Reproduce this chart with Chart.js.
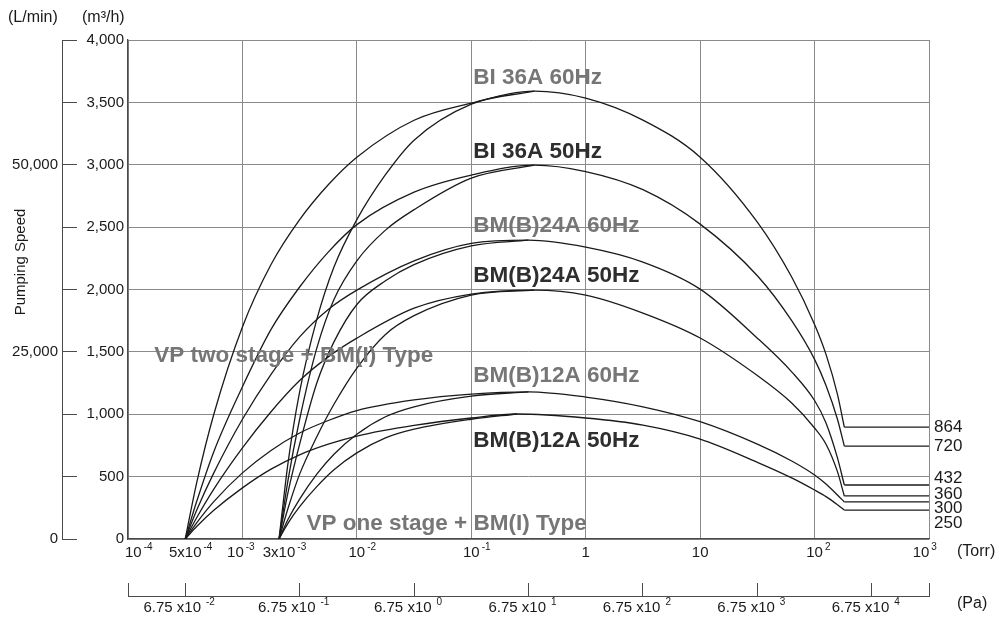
<!DOCTYPE html>
<html>
<head>
<meta charset="utf-8">
<script src="https://cdn.jsdelivr.net/npm/chart.js@4/dist/chart.umd.min.js"></script>
<style>
  html, body { margin: 0; background: #fff; }
  .pump-chart { width: 1004px; height: 626px; position: relative; }
</style>
</head>
<body>
<div class="pump-chart"><canvas></canvas></div>
<script>
// x values are positions on the pressure axis in decades (log10 Torr), as drawn
const torrTicks = [-4, -3.5, -3, -2.68, -2, -1, 0, 1, 2, 3]
const torrLabels = [['10', '-4'], ['5x10', '-4'], ['10', '-3'], ['3x10', '-3'], ['10', '-2'], ['10', '-1'], ['1', ''], ['10', ''], ['10', '2'], ['10', '3']]
const paTicks = [-4, -3.5, -2.5, -1.5, -0.5, 0.5, 1.5, 2.5, 3]
const paLabels = [['', ''], ['6.75 x10', '-2'], ['6.75 x10', '-1'], ['6.75 x10', '0'], ['6.75 x10', '1'], ['6.75 x10', '2'], ['6.75 x10', '3'], ['6.75 x10', '4'], ['', '']]

const models = ['BI 36A 60Hz', 'BI 36A 50Hz', 'BM(B)24A 60Hz', 'BM(B)24A 50Hz', 'BM(B)12A 60Hz', 'BM(B)12A 50Hz']
const peakX = [-0.45, -0.45, -0.5, -0.45, -0.5, -0.6]
const peakSpeed = [3590, 2997, 2396, 1995, 1180, 1002]

// VP two stage + BM(I): rising branch
const twoStageX = [-3.5, -3.4, -3.25, -3, -2.75, -2.5, -2.25, -2, -1.5, -1]
const twoStage36A60 = [0, 450, 1000, 1700, 2200, 2560, 2840, 3061, 3357, 3494]
const twoStage36A50 = [0, 300, 700, 1220, 1680, 2020, 2300, 2520, 2780, 2917]
const twoStage24A60 = [0, 230, 530, 960, 1320, 1620, 1840, 1995, 2230, 2370]
const twoStage24A50 = [0, 170, 400, 730, 1020, 1270, 1460, 1610, 1850, 1963]
const twoStage12A60 = [0, 130, 300, 530, 710, 850, 950, 1030, 1115, 1162]
const twoStage12A50 = [0, 100, 230, 410, 560, 675, 760, 825, 910, 970]

// VP one stage + BM(I): rising branch
const oneStageX = [-2.68, -2.6, -2.5, -2.35, -2.2, -2, -1.75, -1.5, -1]
const oneStage36A60 = [0, 620, 1180, 1760, 2180, 2560, 2920, 3197, 3486]
const oneStage36A50 = [0, 480, 960, 1530, 1920, 2230, 2476, 2640, 2893]
const oneStage24A60 = [0, 380, 760, 1250, 1580, 1880, 2070, 2200, 2350]
const oneStage24A50 = [0, 250, 520, 820, 1080, 1370, 1640, 1790, 1955]
const oneStage12A60 = [0, 160, 320, 520, 680, 840, 980, 1060, 1145]
const oneStage12A50 = [0, 130, 260, 420, 555, 690, 810, 880, 960]

// common falling branch towards atmosphere
const fallX = [0, 0.5, 1, 1.5, 1.8, 2, 2.1, 2.2, 2.26]
const fall36A60 = [3534, 3358, 3061, 2540, 2100, 1720, 1480, 1160, 897]
const fall36A50 = [2945, 2800, 2524, 2110, 1750, 1440, 1230, 960, 745]
const fall24A60 = [2340, 2220, 2003, 1610, 1340, 1110, 930, 650, 433]
const fall24A50 = [1955, 1811, 1611, 1310, 1090, 890, 760, 540, 345]
const fall12A60 = [1138, 1060, 940, 760, 625, 513, 440, 352, 297]
const fall12A50 = [970, 913, 801, 615, 490, 393, 340, 275, 232]

const flatX = [2.26, 3]
const endSpeed = [897, 745, 433, 345, 297, 232]
const endLabels = ['864', '720', '432', '360', '300', '250']

const twoStage = [twoStage36A60, twoStage36A50, twoStage24A60, twoStage24A50, twoStage12A60, twoStage12A50]
const oneStage = [oneStage36A60, oneStage36A50, oneStage24A60, oneStage24A50, oneStage12A60, oneStage12A50]
const fall = [fall36A60, fall36A50, fall24A60, fall24A50, fall12A60, fall12A50]

const FONT = '"Liberation Sans", Arial, Helvetica, sans-serif'
const GRID = '#8a8a8a'
const AXIS = '#4a4a4a'
const INK = '#1a1a1a'
const GREY_TEXT = '#767676'
const DARK_TEXT = '#2e2e2e'

Chart.defaults.font.family = FONT
Chart.defaults.color = INK

const pts = (xs, ys) => xs.map((x, k) => ({ x, y: ys[k] }))

const datasets = []
models.forEach((name, i) => {
  const line = {
    borderColor: INK,
    borderWidth: 1.3,
    pointRadius: 0,
    fill: false,
    cubicInterpolationMode: 'monotone'
  }
  datasets.push({
    ...line,
    label: name + ' two stage',
    data: [...pts(twoStageX, twoStage[i]), { x: peakX[i], y: peakSpeed[i] }, ...pts(fallX, fall[i])]
  })
  datasets.push({
    ...line,
    label: name + ' one stage',
    data: [...pts(oneStageX, oneStage[i]), { x: peakX[i], y: peakSpeed[i] }]
  })
  datasets.push({
    ...line,
    label: name + ' end',
    cubicInterpolationMode: 'default',
    tension: 0,
    data: pts(flatX, [endSpeed[i], endSpeed[i]])
  })
})

// base text centred on cx, exponent hanging to the right
function drawSup(ctx, base, sup, cx, cy, size, gap, mode) {
  const big = size + 'px ' + FONT
  const small = Math.round(size * 0.66) + 'px ' + FONT
  ctx.font = big
  const bw = ctx.measureText(base).width
  ctx.font = small
  const sw = sup ? ctx.measureText(sup).width + gap : 0
  let left = cx - bw / 2
  if (mode === 'left') left = cx
  if (mode === 'whole') left = cx - (bw + sw) / 2
  ctx.textAlign = 'left'
  ctx.textBaseline = 'middle'
  ctx.font = big
  ctx.fillText(base, left, cy)
  if (sup) {
    ctx.font = small
    ctx.fillText(sup, left + bw + gap, cy - size * 0.4)
  }
}

function text(ctx, str, x, y, size, color, opts = {}) {
  ctx.font = (opts.bold ? 'bold ' : '') + size + 'px ' + FONT
  ctx.fillStyle = color
  ctx.textAlign = opts.align || 'left'
  ctx.textBaseline = 'middle'
  ctx.fillText(str, x, y)
}

const annotationsPlugin = {
  id: 'pumpAnnotations',
  afterDraw(chart) {
    const { ctx, scales: { x, pa, y }, chartArea } = chart
    ctx.save()
    ctx.fillStyle = INK

    // torr axis labels (a few nudged sideways like the original print)
    const nudge = { '-4': 0, '-3': -7, '3': -8 }
    for (const t of x.ticks) {
      const k = torrTicks.indexOf(t.value)
      if (k < 0) continue
      const px = x.getPixelForValue(t.value) + (nudge[t.value] || 0)
      drawSup(ctx, torrLabels[k][0], torrLabels[k][1], k === 0 ? px - 3 : px, 553, 15, 2, k === 0 ? 'left' : 'base')
    }
    // pa axis labels
    for (const t of pa.ticks) {
      const k = paTicks.indexOf(t.value)
      if (k < 0 || !paLabels[k][0]) continue
      drawSup(ctx, paLabels[k][0], paLabels[k][1], pa.getPixelForValue(t.value) - 6, 608, 15, 5, 'whole')
    }

    text(ctx, '(Torr)', 957, 552, 16, INK)
    text(ctx, '(Pa)', 957, 604, 16, INK)
    text(ctx, '(L/min)', 8, 18, 16, INK)
    text(ctx, '(m³/h)', 82, 18, 16, INK)

    ctx.save()
    ctx.translate(21, 262)
    ctx.rotate(-Math.PI / 2)
    text(ctx, 'Pumping Speed', 0, 0, 15, INK, { align: 'center' })
    ctx.restore()

    // end values at the right side
    const endLabelSpeed = [897, 745, 489, 361, 248, 128]
    endLabels.forEach((lbl, i) => {
      text(ctx, lbl, chartArea.right + 5, y.getPixelForValue(endLabelSpeed[i]), 17, INK)
    })

    // model names
    const nameSpeed = [3700, 3105, 2512, 2111, 1310, 790]
    const nameColor = [GREY_TEXT, DARK_TEXT, GREY_TEXT, DARK_TEXT, GREY_TEXT, DARK_TEXT]
    models.forEach((m, i) => {
      text(ctx, m, x.getPixelForValue(-1) + 2, y.getPixelForValue(nameSpeed[i]), 22.5, nameColor[i], { bold: true })
    })
    text(ctx, 'VP two stage + BM(I) Type', x.getPixelForValue(-3.77), y.getPixelForValue(1470), 22.5, GREY_TEXT, { bold: true })
    text(ctx, 'VP one stage + BM(I) Type', x.getPixelForValue(-2.44), y.getPixelForValue(124), 22.5, GREY_TEXT, { bold: true })
    ctx.restore()
  }
}

const canvas = document.querySelector('.pump-chart canvas')
new Chart(canvas, {
  type: 'line',
  data: { datasets },
  options: {
    responsive: true,
    maintainAspectRatio: false,
    animation: false,
    events: [],
    layout: { padding: { top: 40, right: 75, left: 0, bottom: 0 } },
    plugins: { legend: { display: false }, tooltip: { enabled: false } },
    scales: {
      x: {
        type: 'linear',
        position: 'bottom',
        weight: 0,
        min: -4,
        max: 3,
        afterBuildTicks: axis => { axis.ticks = torrTicks.map(v => ({ value: v })) },
        afterFit: axis => { axis.height = 57 },
        ticks: { display: false },
        grid: {
          drawTicks: false,
          lineWidth: 1,
          color: c => (c.tick && Number.isInteger(c.tick.value)) ? GRID : 'rgba(0,0,0,0)'
        },
        border: { color: AXIS, width: 1.3 }
      },
      pa: {
        type: 'linear',
        position: 'bottom',
        weight: 1,
        min: -4,
        max: 3,
        afterBuildTicks: axis => { axis.ticks = paTicks.map(v => ({ value: v })) },
        afterFit: axis => { axis.height = 30 },
        ticks: { display: false },
        grid: { drawOnChartArea: false, drawTicks: true, tickLength: -13, color: AXIS, lineWidth: 1 },
        border: { color: AXIS, width: 1 }
      },
      y: {
        position: 'left',
        weight: 0,
        min: 0,
        max: 4000,
        afterFit: axis => { axis.width = 66 },
        ticks: {
          stepSize: 500,
          padding: 4,
          color: INK,
          font: { size: 15 },
          callback: v => v.toLocaleString('en-US')
        },
        grid: { drawTicks: false, color: GRID, lineWidth: 1 },
        border: { color: AXIS, width: 1.3 }
      },
      yl: {
        position: 'left',
        weight: 1,
        min: 0,
        max: 4000,
        afterFit: axis => { axis.width = 62 },
        ticks: {
          stepSize: 500,
          padding: 19,
          color: INK,
          font: { size: 15 },
          callback: v => v % 1500 === 0 ? (v * 50 / 3).toLocaleString('en-US') : ''
        },
        grid: { drawOnChartArea: false, drawTicks: true, tickLength: -15, color: AXIS, lineWidth: 1 },
        border: { color: AXIS, width: 1 }
      }
    }
  },
  plugins: [annotationsPlugin]
})
</script>
</body>
</html>
